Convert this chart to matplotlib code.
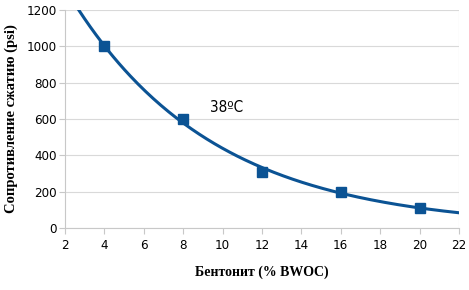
import matplotlib
matplotlib.use('Agg')
import matplotlib.pyplot as plt
import numpy as np

# данные
bentonite = [4, 8, 12, 16, 20]          # % BWOC
strength = [1000, 600, 310, 200, 110]   # psi
x_ticks = [2, 4, 6, 8, 10, 12, 14, 16, 18, 20, 22]
y_ticks = [0, 200, 400, 600, 800, 1000, 1200]

blue = '#0b5394'

# экспоненциальный тренд по точкам
b, ln_a = np.polyfit(bentonite, np.log(strength), 1)
xs = np.linspace(2.7, 22, 200)
ys = np.exp(ln_a) * np.exp(b * xs)

fig = plt.figure(figsize=(4.69, 2.90), dpi=100)
ax = fig.add_axes([0.1386, 0.2138, 0.84, 0.7517])

ax.plot(xs, ys, color=blue, lw=2.2, zorder=3)
ax.plot(bentonite, strength, 's', color=blue, ms=6.5, zorder=4)

ax.set_xlim(2, 22)
ax.set_ylim(0, 1200)
ax.set_xticks(x_ticks)
ax.set_yticks(y_ticks)
ax.grid(axis='y', color='#d9d9d9', lw=0.8)
ax.axvline(22, color='#d9d9d9', lw=0.8)

for s in ['top', 'right']:
    ax.spines[s].set_visible(False)
ax.spines['left'].set_color('#c8c8c8')
ax.spines['bottom'].set_color('#c8c8c8')
ax.tick_params(axis='x', length=4, color='#c8c8c8', pad=4)
ax.tick_params(axis='y', length=4, color='#c8c8c8', pad=2)
for lab in ax.get_xticklabels() + ax.get_yticklabels():
    lab.set_fontfamily('DejaVu Sans')
    lab.set_fontstretch('condensed')
    lab.set_fontsize(9.5)

ax.text(10.2, 665, '38ºC', fontsize=11, fontfamily='DejaVu Sans', fontstretch='condensed', va='center', ha='center')

ax.set_xlabel('Бентонит (% BWOC)', fontfamily='Liberation Serif', fontweight='bold', fontsize=10, labelpad=10)
ax.set_ylabel('Сопротивление сжатию (psi)', fontfamily='Liberation Serif', fontweight='bold', fontsize=10.5, labelpad=6)

fig.savefig('out.png', dpi=100)
